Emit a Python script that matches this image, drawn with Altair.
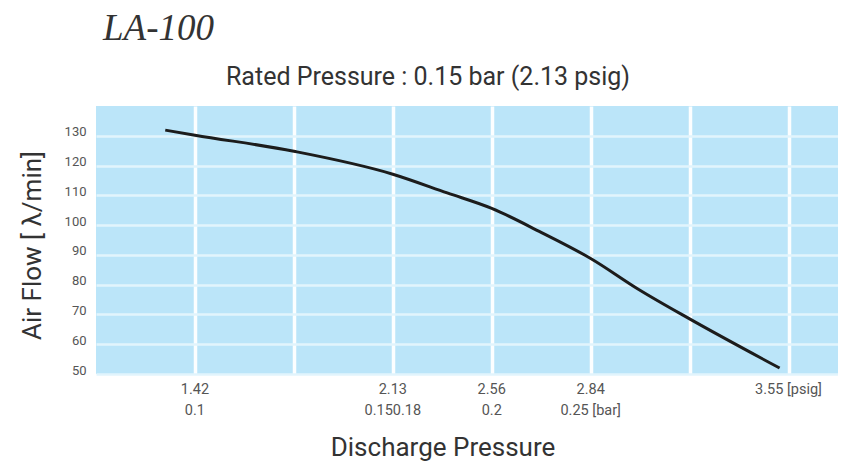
import altair as alt
import pandas as pd

# Curve: grid index position (evenly spaced grid) vs air flow [l/min]
curve_x = [0.70, 1.0, 2.0, 3.0, 3.55, 4.0, 4.48, 5.0, 5.49, 6.0, 6.91]
curve_y = [131.9, 130.2, 124.8, 117.1, 110.8, 105.6, 97.9, 88.8, 78.3, 68.5, 52.0]

# x-axis labels
psig_pos = [1, 3, 4, 5, 7]
psig_labels = ["1.42", "2.13", "2.56", "2.84", "3.55 [psig]"]
bar_pos = [1, 3, 4, 5]
bar_labels = ["0.1", "0.150.18", "0.2", "0.25 [bar]"]

grid_x = [1, 2, 3, 4, 5, 6, 7]
y_ticks = [50, 60, 70, 80, 90, 100, 110, 120, 130]

model = ["LA-100"]
rated = ["Rated Pressure : 0.15 bar (2.13 psig)"]
x_title = ["Discharge Pressure"]
y_title = "Air Flow [ λ/min]"

SANS = "Roboto, Noto Sans, sans-serif"

xs = alt.Scale(domain=[0, 7.5], nice=False, zero=False)
ys = alt.Scale(domain=[50, 140], nice=False, zero=False)

x_axis = alt.Axis(
    values=grid_x, labels=False, ticks=False, domain=False, title=None,
    grid=True, gridColor="#ffffff", gridWidth=3.5, gridOpacity=0.95)

df_curve = pd.DataFrame({"x": curve_x, "y": curve_y})
df_psig = pd.DataFrame({"pos": psig_pos, "label": psig_labels})
df_bar = pd.DataFrame({"pos": bar_pos, "label": bar_labels})

line = alt.Chart(df_curve).mark_line(
    color="#1c1c1c", strokeWidth=3, interpolate="monotone"
).encode(
    x=alt.X("x:Q", scale=xs, axis=x_axis),
    y=alt.Y("y:Q", scale=ys, axis=alt.Axis(
        values=y_ticks, ticks=False, domain=False,
        grid=True, gridColor="#e2f4fc", gridWidth=2.5,
        labelFont=SANS, labelFontSize=13, labelColor="#555555",
        labelPadding=10, labelBaseline="alphabetic",
        title=y_title, titleFont=SANS, titleFontSize=26,
        titleFontWeight="normal", titleColor="#333333",
        titleAngle=-90, titleX=-64, titleY=139,
        titleAlign="center", titleBaseline="middle")),
)

psig_text = alt.Chart(df_psig).mark_text(
    font=SANS, fontSize=14.5, color="#555555", baseline="alphabetic", align="center"
).encode(
    x=alt.X("pos:Q", scale=xs, axis=x_axis),
    y=alt.value(288),
    text="label:N",
)

bar_text = alt.Chart(df_bar).mark_text(
    font=SANS, fontSize=14.5, color="#555555", baseline="alphabetic", align="center"
).encode(
    x=alt.X("pos:Q", scale=xs, axis=x_axis),
    y=alt.value(309),
    text="label:N",
)

model_text = alt.Chart(pd.DataFrame({"t": model})).mark_text(
    font="Liberation Serif", fontStyle="italic", fontSize=37, color="#333333",
    align="left", baseline="alphabetic"
).encode(x=alt.value(7), y=alt.value(-66), text="t:N")

rated_text = alt.Chart(pd.DataFrame({"t": rated})).mark_text(
    font=SANS, fontSize=25, color="#333333", align="center", baseline="alphabetic"
).encode(x=alt.value(332), y=alt.value(-21), text="t:N")

xtitle_text = alt.Chart(pd.DataFrame({"t": x_title})).mark_text(
    font=SANS, fontSize=26, color="#333333", align="center", baseline="alphabetic"
).encode(x=alt.value(347), y=alt.value(350), text="t:N")

chart = alt.layer(
    line, psig_text, bar_text, model_text, rated_text, xtitle_text
).properties(
    width=742, height=268,
    background="#ffffff",
    autosize=alt.AutoSizeParams(type="none"),
    padding={"left": 88, "top": 98, "right": 0, "bottom": 89},
).configure_view(
    fill="#bbe5f9", stroke=None
)

chart.save("out.html", embed_options={"renderer": "svg", "actions": False})
